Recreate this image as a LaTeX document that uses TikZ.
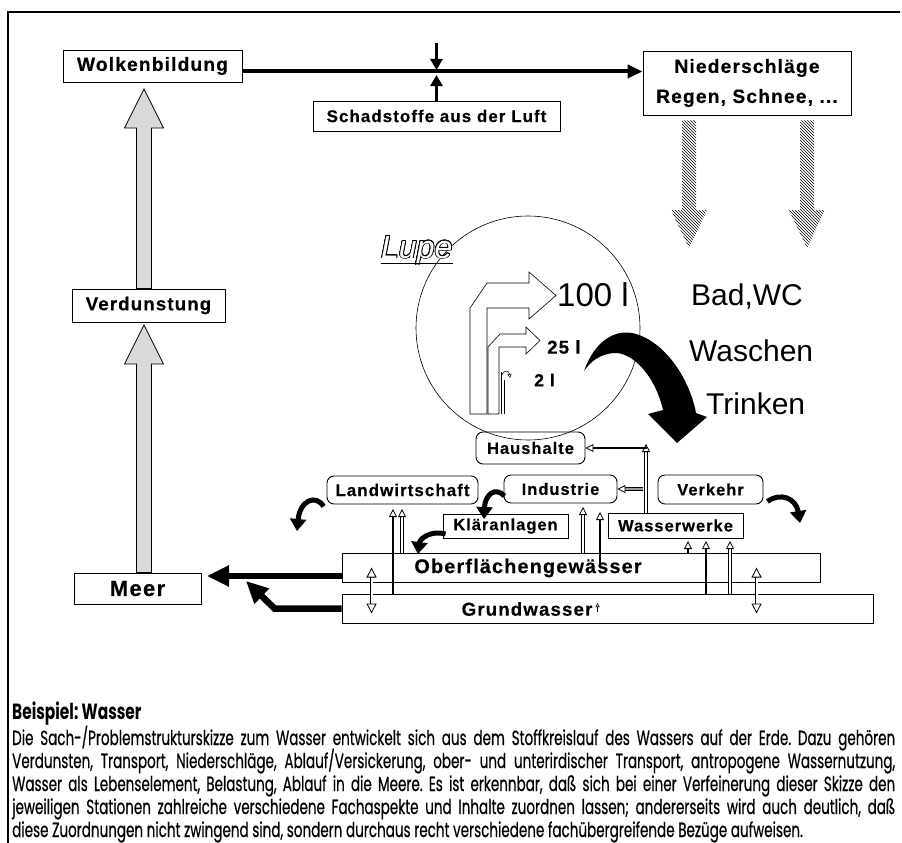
\documentclass[tikz,border=0pt]{standalone}
\usepackage{fontspec}
\usepackage{contour}
\setmainfont{Liberation Sans}
\newfontfamily\boxfont[LetterSpace=6,FakeBold=0.4]{Liberation Sans}
\newfontfamily\notefont[FakeStretch=0.66,FakeBold=0.5]{Poppins}
\newfontfamily\headfont[FakeStretch=0.7]{Poppins}
\usetikzlibrary{arrows.meta,calc,patterns}
\contourlength{0.8pt}
\frenchspacing
% fat block arrows between two points (vertical only)
\newcommand{\fatup}[2]{\filldraw[rise] let \p1=(#1),\p2=(#2) in
  (\x1-7.5pt,\y1) -- (\x1-7.5pt,\y2-39pt) -- (\x1-19.5pt,\y2-39pt) -- (\x1,\y2)
  -- (\x1+19.5pt,\y2-39pt) -- (\x1+7.5pt,\y2-39pt) -- (\x1+7.5pt,\y1) -- cycle;}
\newcommand{\fatdown}[2]{\fill[rain] let \p1=(#1),\p2=(#2) in
  (\x1-7pt,\y1) -- (\x1-7pt,\y2+38pt) -- (\x1-18pt,\y2+38pt) -- (\x1,\y2)
  -- (\x1+18pt,\y2+38pt) -- (\x1+7pt,\y2+38pt) -- (\x1+7pt,\y1) -- cycle;}

\begin{document}
\begin{tikzpicture}[x=1pt,y=-1pt,
  lbl/.style={font=\boxfont\bfseries\fontsize{#1}{#1}\selectfont},
  box/.style={draw,line width=0.9pt,inner sep=0pt,align=center},
  rbox/.style={box,rounded corners=7pt},
  big/.style={font=\fontsize{#1}{#1}\selectfont,inner sep=0pt,anchor=west},
  note/.style={font=\notefont\fontsize{20.5}{20.5}\selectfont,inner sep=0pt,anchor=base west},
  flow/.style={line width=4pt,-{Triangle[width=13pt,length=15pt]}},
  pollut/.style={line width=3pt,-{Triangle[width=12pt,length=11pt]}},
  rise/.style={draw,line width=0.8pt,fill=black!15},
  rain/.style={pattern=north west lines},
  opentip/.style={-{Triangle[open,width=8pt,length=8pt,line width=0.8pt]}},
  solidup/.style={opentip,line width=2.2pt},
  hollowup/.style={opentip,double,double distance=1.3pt,line width=0.9pt},
  tinyup/.style={line width=1pt,-{Triangle[open,width=4pt,length=4pt,line width=0.6pt]}},
  updown/.style={double,double distance=2pt,line width=0.8pt,
    {Triangle[open,width=10pt,length=10pt,line width=0.8pt]}-{Triangle[open,width=10pt,length=10pt,line width=0.8pt]}},
  curl/.style={line width=5pt,-{Triangle[width=16pt,length=12pt]}},
  sea/.style={line width=6.5pt,-{Triangle[width=20pt,length=22pt]}},
  bent/.style={draw,fill=white,line width=0.6pt}]
\useasboundingbox (0,0) rectangle (902,843);
\draw[line width=1.6pt] (8,843) -- (8,12) -- (900,12);

% lens
\node[circle,draw,line width=0.6pt,minimum size=224pt,inner sep=0pt] (lens) at (528,328) {};
\node[font=\itshape\fontsize{32}{32}\selectfont,inner sep=0pt,anchor=base west] (lupe) at (381,258) {\contour{black}{\textcolor{white}{Lupe}}};
\draw[line width=0.8pt] ($(lupe.base west)+(0,5)$) -- ($(lupe.base east)+(0,5)$);

% cycle boxes
\node[box,lbl=19.2,minimum width=179,minimum height=32] (wolk) at (152.5,66) {Wolkenbildung};
\node[box,lbl=17,minimum width=247,minimum height=30] (schad) at (436.5,116) {Schadstoffe aus der Luft};
\node[box,font=\boxfont\bfseries\fontsize{19.2}{30}\selectfont,minimum width=208,minimum height=64] (nied) at (747,83) {Niederschläge\\Regen, Schnee, ...};
\node[box,lbl=18.7,minimum width=153,minimum height=33] (verd) at (148.5,305.5) {Verdunstung};
\node[box,lbl=22,minimum width=127,minimum height=31] (meer) at (137.5,588.5) {Meer};

% users
\node[rbox,lbl=16.5,minimum width=109,minimum height=32] (hh) at (530.5,448) {Haushalte};
\node[rbox,lbl=17,minimum width=151,minimum height=28] (lw) at (402.5,490) {Landwirtschaft};
\node[rbox,lbl=16.5,minimum width=113,minimum height=28] (ind) at (560.5,489) {Industrie};
\node[rbox,lbl=16.5,minimum width=105,minimum height=29] (vk) at (710.5,489.5) {Verkehr};
\node[box,lbl=16.5,minimum width=125,minimum height=24] (klaer) at (505.5,526) {Kläranlagen};
\node[box,lbl=16.5,minimum width=135,minimum height=25] (ww) at (675.5,525.5) {Wasserwerke};
\node[box,minimum width=478,minimum height=29] (ofg) at (581,567.5) {};
\node[lbl=19.8,inner sep=0pt] (ofgtxt) at (528,568) {Oberflächengewässer};
\node[box,minimum width=531,minimum height=29] (gw) at (607.5,608.5) {};
\node[lbl=18.7,inner sep=0pt] (gwtxt) at (527,609) {Grundwasser};

% texts
\node[big=33] (l100) at (557,295) {100 l};
\node[big=17,font=\boxfont\bfseries\fontsize{18.7}{18.7}\selectfont] (l25) at (547,347) {25 l};
\node[big=16,font=\boxfont\bfseries\fontsize{17.6}{17.6}\selectfont] (l2) at (534,380) {2 l};
\node[big=30] (bad) at (691,297) {Bad,WC};
\node[big=30] (wasch) at (689,351) {Waschen};
\node[big=30] (trink) at (706,404) {Trinken};

% bent flows in the lens
\path[bent] (470,414) -- (470,308) -- (487,283) -- (529,283) -- (529,272) -- (556,295.5)
  -- (529,319) -- (529,308) -- (487,308) -- (487,414) -- cycle;
\path[bent] (488,414) -- (488,347) -- (500,334) -- (526,334) -- (526,327) -- (540,340.5)
  -- (526,354) -- (526,347) -- (499,347) -- (499,414) -- cycle;
\draw[line width=0.5pt] (501,414) -- (501,372) (504,414) -- (504,380);
\draw[line width=0.5pt,-{Triangle[open,width=4pt,length=4pt]}] (501,380) .. controls (501,370) and (509,369) .. (510,378);
\fill (584,371) .. controls (595,340) and (615,330) .. (632,333) .. controls (665,340) and (690,380) .. (696,413)
  -- (707,417) -- (677,443) -- (648,414) -- (663,410)
  .. controls (655,375) and (632,352) .. (614,353) .. controls (600,354) and (590,362) .. (584,371) -- cycle;

% water cycle
\draw[flow] ($(wolk.east)+(0,5.5)$) -- ($(nied.west |- wolk.east)+(0,5.5)$);
\coordinate (luftin) at (436.5,43);
\coordinate (luftdown) at (436.5,70);
\coordinate (luftup) at (436.5,75);
\draw[pollut] (luftin) -- (luftdown);
\draw[pollut] (schad.north) -- (schad.north |- luftup);
\coordinate (wolkin) at (144,89);
\coordinate (verdin) at (144,325);
\fatup{verd.north -| wolkin}{wolkin}
\fatup{meer.north -| verdin}{verdin}
\coordinate (rain1) at (689,248);
\coordinate (rain2) at (807,248);
\fatdown{$(nied.south -| rain1)+(0,5)$}{rain1}
\fatdown{$(nied.south -| rain2)+(0,5)$}{rain2}
\coordinate (meerin) at (207,576);
\coordinate (meerin2) at (246,581);
\draw[sea] (meerin -| ofg.west) -- (meerin);
\draw[sea] (gw.west) -- ++(-67,0) -- (meerin2);
\draw[updown] ($(ofg.west)+(30,0)$) -- ($(gw.west)+(30,5)$);
\draw[updown] ($(ofg.west)+(415,0)$) -- ($(gw.west)+(415,5)$);

% withdrawals
\coordinate (lw1) at (393,509);
\coordinate (lw2) at (402,509);
\draw[solidup] (lw1 |- gw.north) -- (lw1);
\draw[hollowup] (lw2 |- ofg.north) -- (lw2);
\coordinate (ind1) at (583,507);
\coordinate (ind2) at (600,512);
\draw[hollowup] (ind1 |- ofg.north) -- (ind1);
\draw[solidup] (600,565) -- (ind2);
\coordinate (ww1) at (688,541);
\coordinate (ww2) at (706,541);
\coordinate (ww3) at (730,541);
\draw[solidup] (ww1 |- ofg.north) -- (ww1);
\draw[solidup] (ww2 |- gw.north) -- (ww2);
\draw[hollowup] (ww3 |- gw.north) -- (ww3);
\coordinate (hhup) at (646,444);
\coordinate (hhjoin) at (647,448);
\coordinate (indjoin) at (643,489);
\draw[hollowup] (ww.north -| hhup) -- (hhup);
\draw[solidup] (hhjoin) -- (hhjoin -| hh.east);
\draw[hollowup,double=black!40] (indjoin) -- (indjoin -| ind.east);
\draw[tinyup] ($(gwtxt.east)+(5,3)$) -- ++(0,-9);

% returns
\draw[curl] ($(lw.south west)+(-3,2)$) .. controls (316,494) and (300,500) .. (297,531);
\draw[curl] ($(ind.west)+(1,7)$) .. controls (495,486) and (485,495) .. (484,519);
\draw[curl] ($(klaer.west)+(3,8)$) .. controls (432,530) and (420,538) .. (418,554);
\draw[curl] ($(vk.east)+(4,12)$) .. controls (780,492) and (796,498) .. (800,523);

% caption
\node[note,font=\headfont\bfseries\fontsize{22}{22}\selectfont] (bsp) at (12,719) {Beispiel: Wasser};
\node[note] (t1) at (12,745) {\makebox[883pt][s]{Die Sach-/Problemstrukturskizze zum Wasser entwickelt sich aus dem Stoffkreislauf des Wassers auf der Erde. Dazu gehören}};
\node[note] (t2) at (12,768) {\makebox[883pt][s]{Verdunsten, Transport, Niederschläge, Ablauf/Versickerung, ober- und unterirdischer Transport, antropogene Wassernutzung,}};
\node[note] (t3) at (12,791) {\makebox[883pt][s]{Wasser als Lebenselement, Belastung, Ablauf in die Meere. Es ist erkennbar, daß sich bei einer Verfeinerung dieser Skizze den}};
\node[note] (t4) at (12,814) {\makebox[883pt][s]{jeweiligen Stationen zahlreiche verschiedene Fachaspekte und Inhalte zuordnen lassen; andererseits wird auch deutlich, daß}};
\node[note] (t5) at (12,837) {diese Zuordnungen nicht zwingend sind, sondern durchaus recht verschiedene fachübergreifende Bezüge aufweisen.};
\end{tikzpicture}
\end{document}
